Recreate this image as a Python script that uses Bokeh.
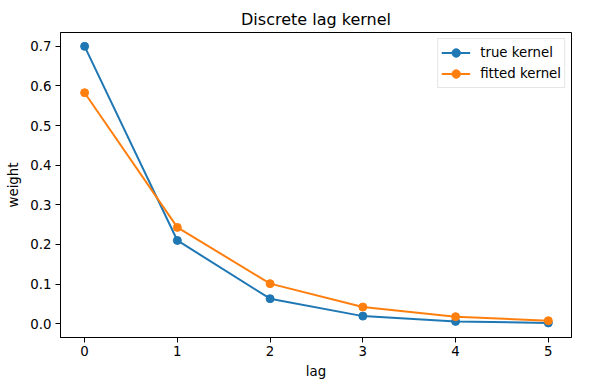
from bokeh.plotting import figure
from bokeh.models import FixedTicker, PrintfTickFormatter, Range1d, Legend, LegendItem
from bokeh.embed import file_html
from bokeh.resources import INLINE

lags = [0, 1, 2, 3, 4, 5]
true_kernel = [0.700, 0.210, 0.063, 0.019, 0.0057, 0.0017]
fitted_kernel = [0.583, 0.243, 0.101, 0.042, 0.0176, 0.0074]
x_ticks = [0, 1, 2, 3, 4, 5]
y_ticks = [0.0, 0.1, 0.2, 0.3, 0.4, 0.5, 0.6, 0.7]

FONT = "DejaVu Sans"
p = figure(frame_width=511, frame_height=305, output_backend="svg", toolbar_location=None,
           title="Discrete lag kernel",
           x_range=Range1d(-0.26, 5.25), y_range=Range1d(-0.035, 0.735),
           min_border_left=60, min_border_right=10, min_border_top=32, min_border_bottom=45)
p.title.text_font = FONT
p.title.text_font_size = "12pt"
p.title.text_font_style = "normal"
p.title.align = "center"
p.title.vertical_align = "top"
p.title.text_color = "black"
p.title.standoff = 4

p.grid.visible = False
p.outline_line_color = "black"
p.outline_line_width = 1
p.background_fill_color = "white"
p.border_fill_color = "white"

for ax in (p.xaxis, p.yaxis):
    ax.major_tick_in = 0
    ax.major_tick_out = 5
    ax.minor_tick_line_color = None
    ax.axis_line_color = "black"
    ax.major_tick_line_color = "black"
    ax.major_label_text_font = FONT
    ax.major_label_text_font_size = "10pt"
    ax.major_label_text_color = "black"
    ax.axis_label_text_font = FONT
    ax.axis_label_text_font_size = "10pt"
    ax.axis_label_text_font_style = "normal"
    ax.axis_label_text_color = "black"

p.xaxis.major_label_standoff = 3
p.yaxis.major_label_standoff = 4
p.xaxis.ticker = FixedTicker(ticks=x_ticks)
p.yaxis.ticker = FixedTicker(ticks=y_ticks)
p.yaxis.formatter = PrintfTickFormatter(format="%.1f")
p.xaxis.axis_label = "lag"
p.yaxis.axis_label = "weight"
p.xaxis.axis_label_standoff = 5
p.yaxis.axis_label_standoff = 6

c1, c2 = "#1f77b4", "#ff7f0e"
l1 = p.line(lags, true_kernel, line_color=c1, line_width=2)
s1 = p.scatter(lags, true_kernel, size=8, fill_color=c1, line_color=c1)
l2 = p.line(lags, fitted_kernel, line_color=c2, line_width=2)
s2 = p.scatter(lags, fitted_kernel, size=8, fill_color=c2, line_color=c2)

legend = Legend(items=[LegendItem(label="true kernel", renderers=[l1, s1]),
                       LegendItem(label="fitted kernel", renderers=[l2, s2])],
                location="top_right")
legend.label_text_font = FONT
legend.label_text_font_size = "10pt"
legend.label_text_color = "black"
legend.border_line_color = "#cccccc"
legend.border_line_width = 1
legend.background_fill_alpha = 0.8
legend.glyph_width = 29
legend.glyph_height = 21
legend.label_height = 21
legend.label_standoff = 10
legend.spacing = 0
legend.padding = 3
legend.margin = 6
p.add_layout(legend)

open("out.html", "w").write(file_html(p, INLINE))
